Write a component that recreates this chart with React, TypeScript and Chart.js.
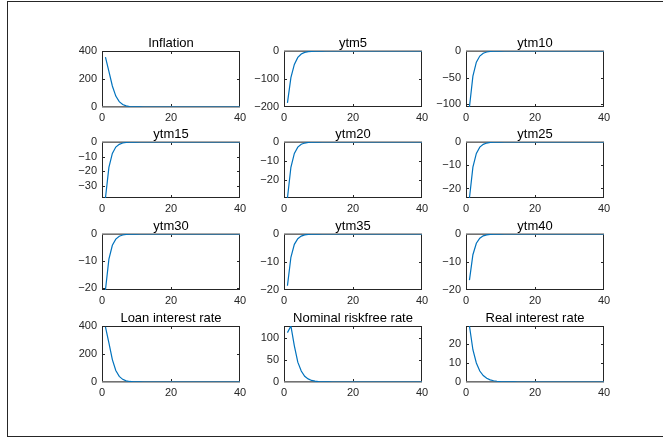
import React, { useEffect, useRef } from 'react';
import { Chart, registerables } from 'chart.js';

Chart.register(...registerables);

// ---------- data ----------
const periods = [
  1, 2, 3, 4, 5, 6, 7, 8, 9, 10,
  11, 12, 13, 14, 15, 16, 17, 18, 19, 20,
  21, 22, 23, 24, 25, 26, 27, 28, 29, 30,
  31, 32, 33, 34, 35, 36, 37, 38, 39, 40,
];
const xTicks = [0, 20, 40];

const inflation = [
  357, 255, 150, 78, 38, 18, 8, 3.5, 1.5, 0.7,
  0.3, 0.1, 0, 0, 0, 0, 0, 0, 0, 0,
  0, 0, 0, 0, 0, 0, 0, 0, 0, 0,
  0, 0, 0, 0, 0, 0, 0, 0, 0, 0,
];
const ytm5 = [
  -185, -95, -48, -23, -11, -5, -2.3, -1, -0.45, -0.2,
  -0.09, -0.04, 0, 0, 0, 0, 0, 0, 0, 0,
  0, 0, 0, 0, 0, 0, 0, 0, 0, 0,
  0, 0, 0, 0, 0, 0, 0, 0, 0, 0,
];
const ytm10 = [
  -105, -47, -21, -9.5, -4.3, -1.9, -0.85, -0.38, -0.17, -0.08,
  -0.03, 0, 0, 0, 0, 0, 0, 0, 0, 0,
  0, 0, 0, 0, 0, 0, 0, 0, 0, 0,
  0, 0, 0, 0, 0, 0, 0, 0, 0, 0,
];
const ytm15 = [
  -38.6, -17.5, -7.9, -3.5, -1.6, -0.7, -0.32, -0.14, -0.06, -0.03,
  0, 0, 0, 0, 0, 0, 0, 0, 0, 0,
  0, 0, 0, 0, 0, 0, 0, 0, 0, 0,
  0, 0, 0, 0, 0, 0, 0, 0, 0, 0,
];
const ytm20 = [
  -29.5, -13.3, -6, -2.7, -1.2, -0.55, -0.25, -0.11, -0.05, -0.02,
  0, 0, 0, 0, 0, 0, 0, 0, 0, 0,
  0, 0, 0, 0, 0, 0, 0, 0, 0, 0,
  0, 0, 0, 0, 0, 0, 0, 0, 0, 0,
];
const ytm25 = [
  -24.1, -10.8, -4.9, -2.2, -1, -0.45, -0.2, -0.09, -0.04, -0.02,
  0, 0, 0, 0, 0, 0, 0, 0, 0, 0,
  0, 0, 0, 0, 0, 0, 0, 0, 0, 0,
  0, 0, 0, 0, 0, 0, 0, 0, 0, 0,
];
const ytm30 = [
  -20.9, -9.4, -4.2, -1.9, -0.85, -0.38, -0.17, -0.08, -0.03, -0.01,
  0, 0, 0, 0, 0, 0, 0, 0, 0, 0,
  0, 0, 0, 0, 0, 0, 0, 0, 0, 0,
  0, 0, 0, 0, 0, 0, 0, 0, 0, 0,
];
const ytm35 = [
  -18.5, -8.3, -3.7, -1.7, -0.75, -0.34, -0.15, -0.07, -0.03, -0.01,
  0, 0, 0, 0, 0, 0, 0, 0, 0, 0,
  0, 0, 0, 0, 0, 0, 0, 0, 0, 0,
  0, 0, 0, 0, 0, 0, 0, 0, 0, 0,
];
const ytm40 = [
  -16.5, -7.4, -3.3, -1.5, -0.67, -0.3, -0.14, -0.06, -0.03, -0.01,
  0, 0, 0, 0, 0, 0, 0, 0, 0, 0,
  0, 0, 0, 0, 0, 0, 0, 0, 0, 0,
  0, 0, 0, 0, 0, 0, 0, 0, 0, 0,
];
const loanRate = [
  393, 280, 160, 82, 40, 19, 8.5, 3.8, 1.6, 0.7,
  0.3, 0.1, 0, 0, 0, 0, 0, 0, 0, 0,
  0, 0, 0, 0, 0, 0, 0, 0, 0, 0,
  0, 0, 0, 0, 0, 0, 0, 0, 0, 0,
];
const nominalRate = [
  112, 127, 82, 45, 25, 13, 7, 3.5, 1.8, 0.9,
  0.45, 0.2, 0.1, 0, 0, 0, 0, 0, 0, 0,
  0, 0, 0, 0, 0, 0, 0, 0, 0, 0,
  0, 0, 0, 0, 0, 0, 0, 0, 0, 0,
];
const realRate = [
  29.5, 17, 10, 5.8, 3.4, 2, 1.15, 0.67, 0.39, 0.22,
  0.13, 0.07, 0.04, 0.02, 0.01, 0, 0, 0, 0, 0,
  0, 0, 0, 0, 0, 0, 0, 0, 0, 0,
  0, 0, 0, 0, 0, 0, 0, 0, 0, 0,
];

const titles = [
  'Inflation', 'ytm5', 'ytm10',
  'ytm15', 'ytm20', 'ytm25',
  'ytm30', 'ytm35', 'ytm40',
  'Loan interest rate', 'Nominal riskfree rate', 'Real interest rate',
];
const seriesList = [
  inflation, ytm5, ytm10,
  ytm15, ytm20, ytm25,
  ytm30, ytm35, ytm40,
  loanRate, nominalRate, realRate,
];
const yMins = [0, -200, -105, -38.6, -29.5, -24.1, -20.9, -20, -20, 0, 0, 0];
const yMaxs = [400, 0, 0, 0, 0, 0, 0, 0, 0, 400, 127, 29.5];
const yTickLists = [
  [0, 200, 400], [-200, -100, 0], [-100, -50, 0],
  [-30, -20, -10, 0], [-20, -10, 0], [-20, -10, 0],
  [-20, -10, 0], [-20, -10, 0], [-20, -10, 0],
  [0, 200, 400], [0, 50, 100], [0, 10, 20],
];

// ---------- layout ----------
const colLefts = [102, 284, 466];
const rowTops = [51, 142, 234, 326];
const PLOT_W = 138;
const PLOT_H = 56;
const AX_W = 50;
const AX_H = 22;
const PAD_T = 28;
const PAD_R = 16;
const CANVAS_W = AX_W + PLOT_W + PAD_R;
const CANVAS_H = PAD_T + PLOT_H + AX_H;

const AXIS_COLOR = '#262626';
const LINE_COLOR = '#0072BD';
const FONT_FAMILY = '"Liberation Sans", Arial, "Noto Sans CJK JP", sans-serif';

const fmt = (v: number) => (v < 0 ? '\u2212' + Math.abs(v) : String(v));

function makeAxesPlugin(title: string) {
  return {
    id: 'matlabAxes',
    beforeDatasetsDraw(chart: any) {
      const { ctx, chartArea, scales } = chart;
      const { left, right, top, bottom } = chartArea;
      const xs = scales.x;
      const ys = scales.y;
      ctx.save();
      // box
      ctx.strokeStyle = AXIS_COLOR;
      ctx.lineWidth = 1;
      ctx.strokeRect(left + 0.5, top + 0.5, right - left - 1, bottom - top - 1);
      // tick marks (inside, on both sides)
      const tl = 3;
      ctx.beginPath();
      xs.ticks.forEach((t: any) => {
        let px = Math.round(xs.getPixelForValue(t.value)) + 0.5;
        px = Math.max(left + 0.5, Math.min(right - 0.5, px));
        ctx.moveTo(px, bottom);
        ctx.lineTo(px, bottom - tl);
        ctx.moveTo(px, top);
        ctx.lineTo(px, top + tl);
      });
      ys.ticks.forEach((t: any) => {
        let py = Math.round(ys.getPixelForValue(t.value)) + 0.5;
        py = Math.max(top + 0.5, Math.min(bottom - 0.5, py));
        ctx.moveTo(left, py);
        ctx.lineTo(left + tl, py);
        ctx.moveTo(right, py);
        ctx.lineTo(right - tl, py);
      });
      ctx.stroke();
      // zero reference line
      const y0 = ys.getPixelForValue(0);
      ctx.strokeStyle = '#8c8c8c';
      ctx.lineWidth = 1.5;
      ctx.beginPath();
      ctx.moveTo(left, y0);
      ctx.lineTo(right, y0);
      ctx.stroke();
      ctx.restore();
    },
    afterDraw(chart: any) {
      const { ctx, chartArea } = chart;
      ctx.save();
      ctx.fillStyle = '#000000';
      ctx.font = `13px ${FONT_FAMILY}`;
      ctx.textAlign = 'center';
      ctx.textBaseline = 'alphabetic';
      ctx.fillText(title, (chartArea.left + chartArea.right) / 2, chartArea.top - 4.5);
      ctx.restore();
    },
  };
}

function Panel({ index }: { index: number }) {
  const ref = useRef<HTMLCanvasElement>(null);
  const col = index % 3;
  const row = Math.floor(index / 3);
  const left = colLefts[col] - AX_W;
  const top = rowTops[row] - PAD_T;

  useEffect(() => {
    if (!ref.current) return;
    const values = seriesList[index];
    const yTicks = yTickLists[index];
    const tickFont = { family: FONT_FAMILY, size: 11 };
    const chart = new Chart(ref.current, {
      type: 'line',
      data: {
        datasets: [
          {
            data: periods.map((p, i) => ({ x: p, y: values[i] })),
            borderColor: LINE_COLOR,
            borderWidth: 1.2,
            pointRadius: 0,
            tension: 0,
            fill: false,
          },
        ],
      },
      options: {
        responsive: false,
        animation: false,
        events: [],
        layout: { padding: { top: PAD_T, right: PAD_R, left: 0, bottom: 0 } },
        plugins: {
          legend: { display: false },
          tooltip: { enabled: false },
          title: { display: false },
        },
        scales: {
          x: {
            type: 'linear',
            min: 0,
            max: 40,
            afterBuildTicks: (s: any) => {
              s.ticks = xTicks.map((v) => ({ value: v }));
            },
            afterFit: (s: any) => {
              s.height = AX_H;
            },
            grid: { display: false, drawTicks: false },
            border: { display: false },
            ticks: {
              padding: 4,
              maxRotation: 0,
              autoSkip: false,
              color: AXIS_COLOR,
              font: tickFont,
              callback: (v: any) => fmt(Number(v)),
            },
          },
          y: {
            type: 'linear',
            min: yMins[index],
            max: yMaxs[index],
            afterBuildTicks: (s: any) => {
              s.ticks = yTicks.map((v) => ({ value: v }));
            },
            afterFit: (s: any) => {
              s.width = AX_W;
            },
            grid: { display: false, drawTicks: false },
            border: { display: false },
            ticks: {
              padding: 5,
              autoSkip: false,
              color: AXIS_COLOR,
              font: tickFont,
              callback: (v: any) => fmt(Number(v)),
            },
          },
        },
      } as any,
      plugins: [makeAxesPlugin(titles[index])],
    });
    return () => chart.destroy();
  }, [index]);

  return (
    <canvas
      ref={ref}
      width={CANVAS_W}
      height={CANVAS_H}
      style={{ position: 'absolute', left, top, width: CANVAS_W, height: CANVAS_H }}
    />
  );
}

export default function App() {
  return (
    <div style={{ position: 'fixed', left: 0, top: 0, width: 663, height: 439, background: '#ffffff' }}>
      <div
        style={{
          position: 'absolute',
          left: 7,
          top: 1,
          width: 680,
          height: 436,
          border: '1px solid #262626',
          boxSizing: 'border-box',
        }}
      />
      {titles.map((_, i) => (
        <Panel key={i} index={i} />
      ))}
    </div>
  );
}
